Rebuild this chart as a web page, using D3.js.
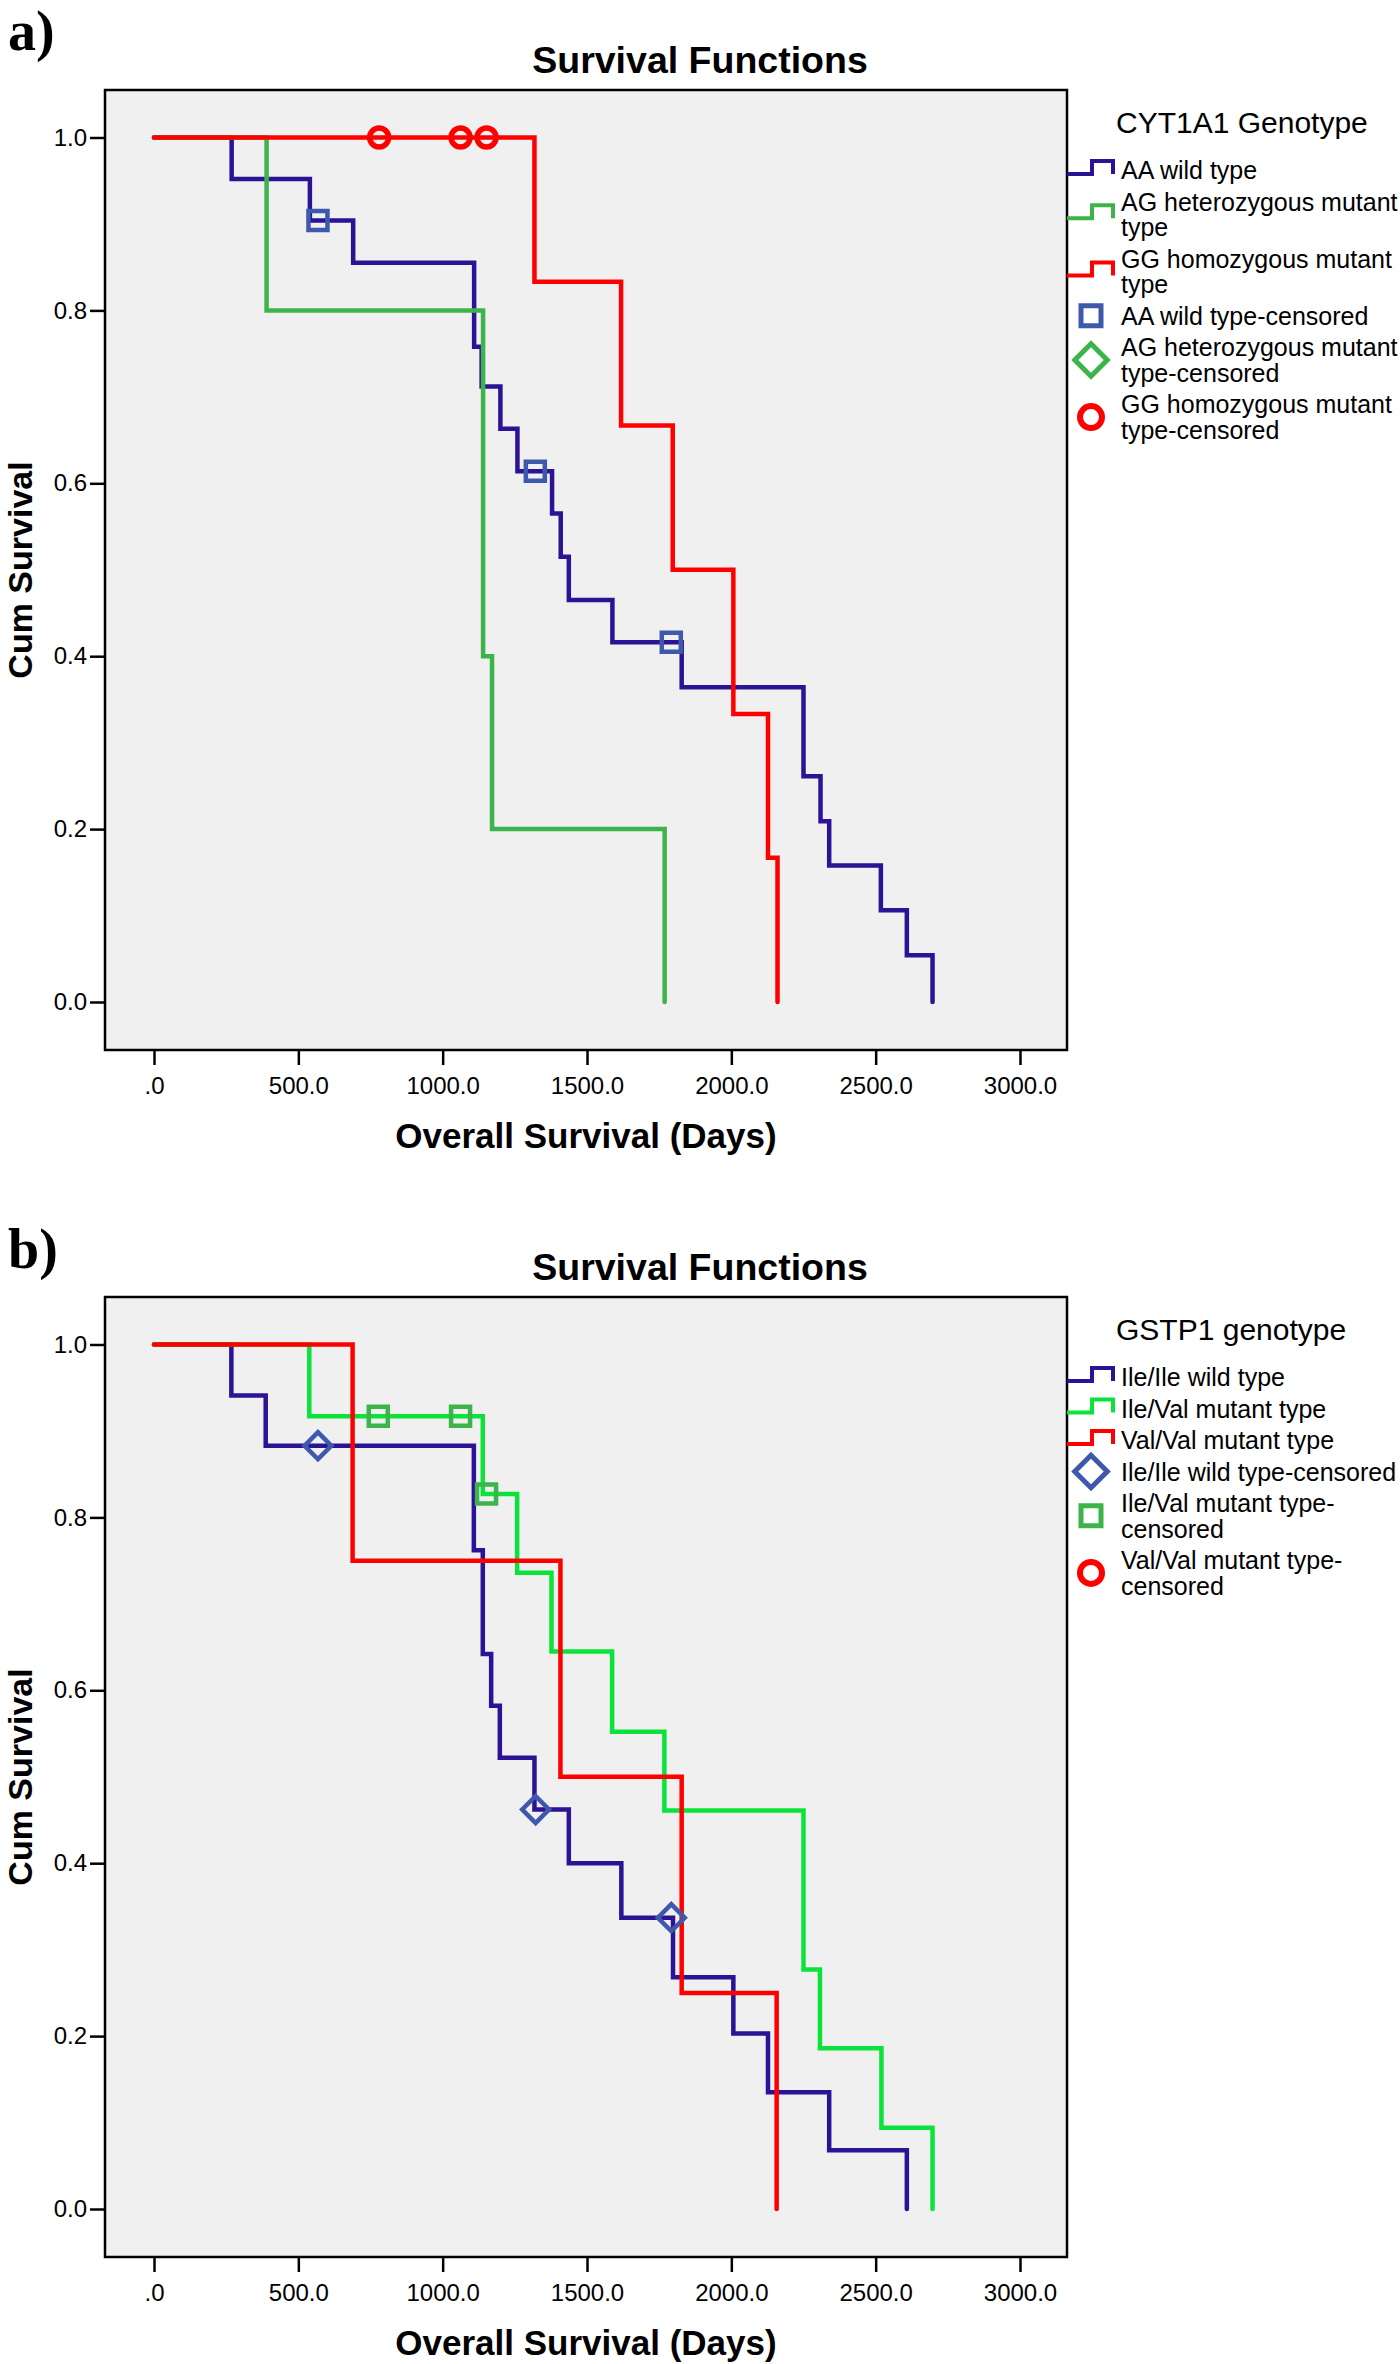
<!DOCTYPE html>
<html>
<head>
<meta charset="utf-8">
<script src="https://cdn.jsdelivr.net/npm/d3@7/dist/d3.min.js"></script>
<style>
  body { margin: 0; background: #fff; }
  svg { display: block; }
  text { font-family: "Liberation Sans", Arial, sans-serif; fill: #000; }
</style>
</head>
<body>
<svg id="chart" width="1400" height="2364"></svg>
<script>
// ---- axes ----
const xTicks = [0, 500, 1000, 1500, 2000, 2500, 3000];
const yTicks = [0, 0.2, 0.4, 0.6, 0.8, 1.0];

// ---- panel a : CYT1A1 genotype ----
const aaDays = [0, 269, 540, 690, 1109, 1135, 1200, 1259, 1379, 1409, 1437, 1588, 1828, 2250, 2309, 2339, 2518, 2608, 2697];
const aaSurv = [1, 0.952, 0.904, 0.855, 0.758, 0.712, 0.663, 0.614, 0.565, 0.515, 0.465, 0.416, 0.364, 0.261, 0.209, 0.158, 0.106, 0.054, 0];
const aaCensored = [568, 1321, 1792];

const agDays = [0, 390, 1140, 1171, 1769];
const agSurv = [1, 0.8, 0.4, 0.2, 0];
const agCensored = [];

const ggDays = [0, 1318, 1618, 1797, 2007, 2127, 2160];
const ggSurv = [1, 0.833, 0.667, 0.5, 0.333, 0.167, 0];
const ggCensored = [780, 1062, 1152];

// ---- panel b : GSTP1 genotype ----
const ileIleDays = [0, 268, 387, 1108, 1139, 1168, 1198, 1318, 1437, 1619, 1798, 2007, 2127, 2339, 2608];
const ileIleSurv = [1, 0.941, 0.883, 0.762, 0.642, 0.582, 0.522, 0.462, 0.4, 0.337, 0.268, 0.203, 0.135, 0.068, 0];
const ileIleCensored = [568, 1322, 1792];

const ileValDays = [0, 538, 1139, 1258, 1377, 1587, 1768, 2250, 2307, 2520, 2697];
const ileValSurv = [1, 0.917, 0.827, 0.736, 0.645, 0.552, 0.461, 0.277, 0.186, 0.094, 0];
const ileValCensored = [777, 1062, 1152];

const valValDays = [0, 688, 1408, 1828, 2157];
const valValSurv = [1, 0.75, 0.5, 0.25, 0];
const valValCensored = [];

const panels = [
    {
        tag: "a)", tagY: 50, top: 90,
        legendTitle: "CYT1A1 Genotype",
        series: [
            {days: aaDays, surv: aaSurv, censored: aaCensored, line: "#2c1294", mark: "#3e58ac", symbol: "square",
             label: ["AA wild type"], censLabel: ["AA wild type-censored"]},
            {days: agDays, surv: agSurv, censored: agCensored, line: "#3cb44b", mark: "#3cb44b", symbol: "diamond",
             label: ["AG heterozygous mutant", "type"], censLabel: ["AG heterozygous mutant", "type-censored"]},
            {days: ggDays, surv: ggSurv, censored: ggCensored, line: "#ff0000", mark: "#ff0000", symbol: "circle",
             label: ["GG homozygous mutant", "type"], censLabel: ["GG homozygous mutant", "type-censored"]}
        ]
    },
    {
        tag: "b)", tagY: 1268, top: 1297,
        legendTitle: "GSTP1 genotype",
        series: [
            {days: ileIleDays, surv: ileIleSurv, censored: ileIleCensored, line: "#2c1294", mark: "#3e58ac", symbol: "diamond",
             label: ["Ile/Ile wild type"], censLabel: ["Ile/Ile wild type-censored"]},
            {days: ileValDays, surv: ileValSurv, censored: ileValCensored, line: "#0be33b", mark: "#3cb44b", symbol: "square",
             label: ["Ile/Val mutant type"], censLabel: ["Ile/Val mutant type-", "censored"]},
            {days: valValDays, surv: valValSurv, censored: valValCensored, line: "#ff0000", mark: "#ff0000", symbol: "circle",
             label: ["Val/Val mutant type"], censLabel: ["Val/Val mutant type-", "censored"]}
        ]
    }
];

const svg = d3.select("#chart");
const W = 1400;
const left = 105, right = 1067, frameH = 960;

const fmtX = d => d === 0 ? ".0" : d3.format(".1f")(d);

function markerPath(kind, big) {
    if (kind === "circle") return d3.symbol().type(d3.symbolCircle).size(Math.PI * (big ? 11 : 9.5) ** 2)();
    const side = kind === "diamond" ? (big ? 23 : 19) : (big ? 20 : 19);
    return d3.symbol().type(d3.symbolSquare).size(side * side)();
}

function stepAt(s, t) {
    const i = d3.bisectRight(s.days, t) - 1;
    return s.surv[Math.max(0, i)];
}

panels.forEach(p => {
    const top = p.top, bottom = top + frameH;
    const x = d3.scaleLinear().domain([0, 3000]).range([left + 49, right - 47]);
    const y = d3.scaleLinear().domain([0, 1]).range([bottom - 48, top + 47.5]);
    const g = svg.append("g");

    g.append("text").attr("x", 8).attr("y", p.tagY)
        .style("font-family", '"Liberation Serif", "Times New Roman", serif')
        .style("font-weight", "bold").style("font-size", "56px").text(p.tag);

    g.append("text").attr("x", W / 2).attr("y", top - 17).attr("text-anchor", "middle")
        .style("font-weight", "bold").style("font-size", "37.5px").text("Survival Functions");

    g.append("rect").attr("x", left).attr("y", top).attr("width", right - left).attr("height", frameH)
        .attr("fill", "#f0f0f0").attr("stroke", "#000").attr("stroke-width", 2.5);

    const line = d3.line().x(d => x(d)).curve(d3.curveStepAfter);
    p.series.forEach(s => {
        line.y((d, i) => y(s.surv[i]));
        g.append("path").attr("d", line(s.days))
            .attr("fill", "none").attr("stroke", s.line).attr("stroke-width", 4.5)
            .attr("stroke-linecap", "round");
    });
    p.series.forEach(s => {
        g.selectAll(null).data(s.censored).join("path")
            .attr("d", markerPath(s.symbol, false))
            .attr("transform", t => `translate(${x(t)},${y(stepAt(s, t))})` + (s.symbol === "diamond" ? " rotate(45)" : ""))
            .attr("fill", "none").attr("stroke", s.mark)
            .attr("stroke-width", s.symbol === "circle" ? 5.5 : 4.5);
    });

    const xAxis = g.append("g").attr("transform", `translate(0,${bottom})`)
        .call(d3.axisBottom(x).tickValues(xTicks).tickSize(15).tickPadding(12).tickFormat(fmtX));
    const yAxis = g.append("g").attr("transform", `translate(${left},0)`)
        .call(d3.axisLeft(y).tickValues(yTicks).tickSize(15).tickPadding(3).tickFormat(d3.format(".1f")));
    [xAxis, yAxis].forEach(a => {
        a.select(".domain").remove();
        a.selectAll(".tick line").attr("stroke", "#000").attr("stroke-width", 2.5);
        a.selectAll(".tick text").style("font-size", "24px").attr("fill", "#000")
            .style("font-family", '"Liberation Sans", Arial, sans-serif');
    });

    g.append("text").attr("x", (left + right) / 2).attr("y", bottom + 98).attr("text-anchor", "middle")
        .style("font-weight", "bold").style("font-size", "35px").text("Overall Survival (Days)");
    g.append("text").attr("transform", `translate(32,${(top + bottom) / 2}) rotate(-90)`).attr("text-anchor", "middle")
        .style("font-weight", "bold").style("font-size", "34px").text("Cum Survival");

    // legend
    const lg = g.append("g");
    lg.append("text").attr("x", 1116).attr("y", top + 43).style("font-size", "30px").text(p.legendTitle);
    const items = p.series.map(s => ({kind: "step", color: s.line, lines: s.label}))
        .concat(p.series.map(s => ({kind: s.symbol, color: s.mark, lines: s.censLabel})));
    let cy = top + 80 - 31.5;
    items.forEach(it => {
        const first = cy + 31.5;
        const centers = it.lines.map((l, i) => first + i * 25.6);
        cy = centers[centers.length - 1];
        const mid = d3.mean(centers);
        it.lines.forEach((l, i) => {
            lg.append("text").attr("x", 1121).attr("y", centers[i] + 9).style("font-size", "25px").text(l);
        });
        if (it.kind === "step") {
            lg.append("path").attr("d", `M${right},${mid + 4}H1092V${mid - 9}H1113V${mid + 4}`)
                .attr("fill", "none").attr("stroke", it.color).attr("stroke-width", 4);
        } else {
            lg.append("path").attr("d", markerPath(it.kind, true))
                .attr("transform", `translate(1091,${mid})` + (it.kind === "diamond" ? " rotate(45)" : ""))
                .attr("fill", "none").attr("stroke", it.color).attr("stroke-width", it.kind === "circle" ? 6 : 5);
        }
    });
});
</script>
</body>
</html>
